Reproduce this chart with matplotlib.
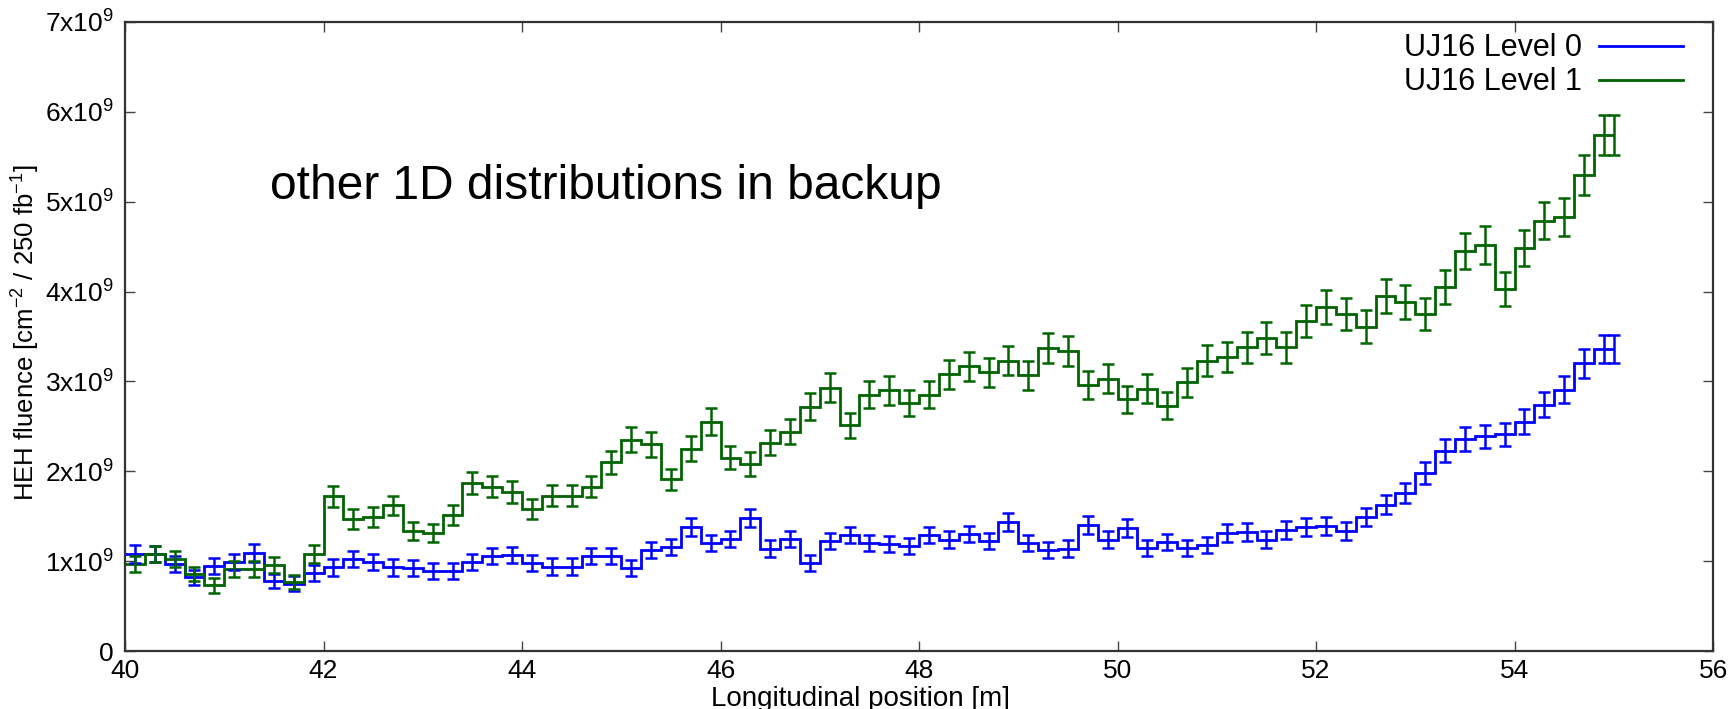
import numpy as np
import matplotlib
matplotlib.use("Agg")
import matplotlib.pyplot as plt
from matplotlib.lines import Line2D
from matplotlib.ticker import FixedLocator, FixedFormatter

plt.rcParams['font.family'] = ['Liberation Sans', 'DejaVu Sans']
plt.rcParams['mathtext.fontset'] = 'custom'
plt.rcParams['mathtext.rm'] = 'Liberation Sans'
plt.rcParams['mathtext.it'] = 'Liberation Sans:italic'
plt.rcParams['mathtext.bf'] = 'Liberation Sans:bold'

# 0.2 m bins from 40 m to 55 m, fluence in units of 1e9 cm^-2 / 250 fb^-1
edges = np.round(np.arange(40.0, 55.0001, 0.2), 1)

level0 = [1.08, 1.08, 0.97, 0.82, 0.95, 0.99, 1.09, 0.78, 0.75, 0.87,
          0.93, 1.02, 0.99, 0.93, 0.92, 0.89, 0.89, 0.99, 1.06, 1.07,
          0.98, 0.94, 0.94, 1.06, 1.06, 0.92, 1.12, 1.16, 1.38, 1.20,
          1.25, 1.48, 1.14, 1.25, 0.98, 1.22, 1.29, 1.20, 1.19, 1.17,
          1.29, 1.24, 1.30, 1.22, 1.44, 1.20, 1.12, 1.14, 1.40, 1.24,
          1.37, 1.15, 1.21, 1.15, 1.18, 1.31, 1.32, 1.24, 1.35, 1.38,
          1.39, 1.34, 1.49, 1.63, 1.76, 1.98, 2.23, 2.36, 2.39, 2.41,
          2.55, 2.74, 2.91, 3.20, 3.36]
level0_err = [0.10, 0.09, 0.09, 0.08, 0.09, 0.09, 0.10, 0.08, 0.08, 0.09,
              0.09, 0.09, 0.09, 0.09, 0.09, 0.09, 0.09, 0.09, 0.09, 0.09,
              0.09, 0.09, 0.09, 0.09, 0.09, 0.09, 0.09, 0.09, 0.10, 0.09,
              0.09, 0.10, 0.09, 0.09, 0.09, 0.09, 0.09, 0.09, 0.09, 0.09,
              0.09, 0.09, 0.09, 0.09, 0.10, 0.09, 0.09, 0.09, 0.10, 0.09,
              0.10, 0.09, 0.09, 0.09, 0.09, 0.10, 0.10, 0.09, 0.10, 0.10,
              0.10, 0.10, 0.10, 0.11, 0.11, 0.12, 0.13, 0.13, 0.13, 0.13,
              0.14, 0.14, 0.15, 0.16, 0.16]

level1 = [0.97, 1.08, 1.02, 0.86, 0.73, 0.91, 0.91, 0.96, 0.77, 1.08,
          1.72, 1.47, 1.49, 1.62, 1.34, 1.31, 1.51, 1.87, 1.83, 1.77,
          1.58, 1.73, 1.73, 1.83, 2.10, 2.35, 2.30, 1.91, 2.25, 2.55,
          2.15, 2.08, 2.32, 2.44, 2.72, 2.93, 2.51, 2.85, 2.90, 2.76,
          2.85, 3.08, 3.17, 3.10, 3.23, 3.07, 3.37, 3.34, 2.96, 3.03,
          2.80, 2.92, 2.73, 2.99, 3.23, 3.27, 3.38, 3.48, 3.38, 3.67,
          3.83, 3.75, 3.61, 3.95, 3.88, 3.75, 4.05, 4.45, 4.52, 4.03,
          4.49, 4.79, 4.83, 5.30, 5.74]
level1_err = [0.09, 0.09, 0.09, 0.08, 0.08, 0.09, 0.09, 0.09, 0.08, 0.10,
              0.12, 0.11, 0.11, 0.11, 0.10, 0.10, 0.11, 0.12, 0.12, 0.12,
              0.11, 0.12, 0.12, 0.12, 0.13, 0.14, 0.14, 0.12, 0.14, 0.15,
              0.13, 0.13, 0.14, 0.14, 0.15, 0.16, 0.14, 0.15, 0.16, 0.15,
              0.15, 0.16, 0.16, 0.16, 0.16, 0.16, 0.17, 0.17, 0.16, 0.16,
              0.15, 0.16, 0.15, 0.16, 0.17, 0.17, 0.17, 0.18, 0.17, 0.18,
              0.19, 0.18, 0.18, 0.19, 0.19, 0.18, 0.19, 0.20, 0.21, 0.19,
              0.20, 0.21, 0.21, 0.22, 0.22]

labels = ["UJ16 Level 0", "UJ16 Level 1"]
colors = ["#0000ff", "#006400"]

xticks = [40, 42, 44, 46, 48, 50, 52, 54, 56]
yticks = [0, 1e9, 2e9, 3e9, 4e9, 5e9, 6e9, 7e9]
ytick_labels = ["0"] + [f"{k}x10$^{{9}}$" for k in range(1, 8)]

fig = plt.figure(figsize=(17.36, 7.09), dpi=100)
ax = fig.add_axes([0.072, 0.0818, 0.9148, 0.8872])

centers = 0.5 * (edges[:-1] + edges[1:])
for vals, errs, col in zip([level0, level1], [level0_err, level1_err], colors):
    v = np.array(vals) * 1e9
    e = np.array(errs) * 1e9
    ax.stairs(v, edges, baseline=None, color=col, lw=2.0)
    # histogram-style error bars, plus the closing one at the last edge
    xs = np.append(centers, edges[-1])
    ax.errorbar(xs, np.append(v, v[-1]), yerr=np.append(e, e[-1]),
                fmt='none', ecolor=col, elinewidth=1.8, capsize=4.5,
                capthick=1.8)

ax.set_xlim(40, 56)
ax.set_ylim(0, 7e9)
ax.xaxis.set_major_locator(FixedLocator(xticks))
ax.xaxis.set_major_formatter(FixedFormatter([str(t) for t in xticks]))
ax.yaxis.set_major_locator(FixedLocator(yticks))
ax.yaxis.set_major_formatter(FixedFormatter(ytick_labels))
ax.tick_params(direction='in', top=True, right=True, length=7, width=1,
               color='#444444', labelsize=19)
ax.tick_params(axis='y', pad=8)
ax.tick_params(axis='x', pad=6)
for s in ax.spines.values():
    s.set_color('#333333')
    s.set_linewidth(1.6)

ax.set_xlabel("Longitudinal position [m]", fontsize=20)
ax.set_ylabel("HEH fluence [cm$^{-2}$ / 250 fb$^{-1}$]", fontsize=18.5)
ax.xaxis.set_label_coords(0.463, -0.055)
ax.yaxis.set_label_coords(-0.052, 0.506)

ax.text(41.46, 5.03e9, "other 1D distributions in backup", fontsize=34.5,
        ha='left', va='baseline')

handles = [Line2D([], [], color=c, lw=2.0) for c in colors]
ax.legend(handles, labels, loc='upper right', bbox_to_anchor=(0.981, 0.982),
          frameon=False, markerfirst=False, fontsize=22, handlelength=2.75,
          handletextpad=0.55, labelspacing=0.13, borderpad=0.0,
          borderaxespad=0.0)

fig.savefig("out.png", dpi=100)
